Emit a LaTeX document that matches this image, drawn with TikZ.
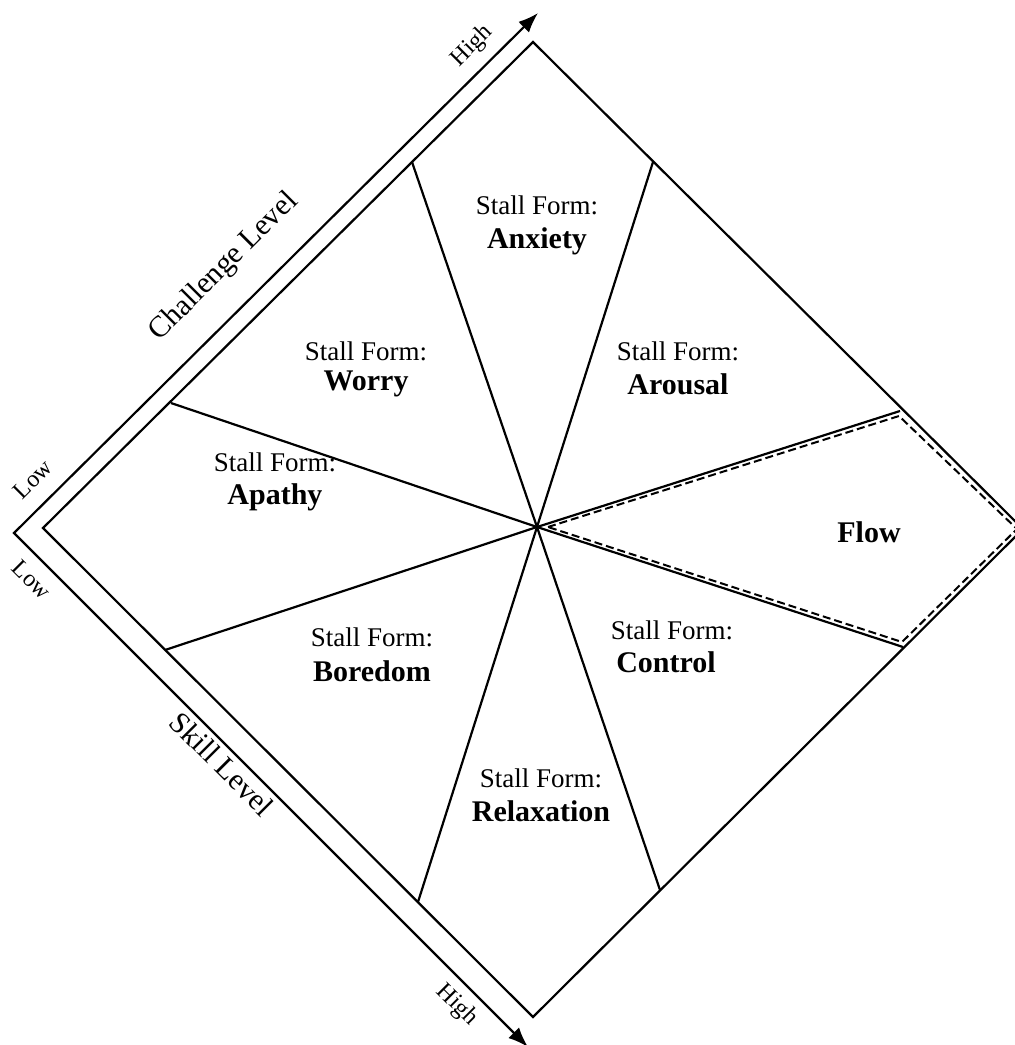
\documentclass[tikz,border=0pt]{standalone}
\usepackage{fontspec}
\setmainfont{Liberation Serif}
\usetikzlibrary{arrows.meta}
\tikzset{axtip/.tip={Latex[length=20pt,width=15pt]}}
\begin{document}
\begin{tikzpicture}[x=1pt,y=-1pt,line width=2.2pt,line join=miter,
  sf/.style={font=\fontsize{27}{32}\selectfont,inner sep=0pt},
  nm/.style={font=\fontsize{30}{34}\bfseries\selectfont,inner sep=0pt},
  axlab/.style={font=\fontsize{30}{34}\selectfont,inner sep=0pt},
  endlab/.style={font=\fontsize{24}{28}\selectfont,inner sep=0pt}]
\useasboundingbox (0,0) rectangle (1015,1045);
% diamond
\coordinate (C) at (537,527);
\coordinate (T) at (533,42);
\coordinate (R) at (1023,529);
\coordinate (B) at (533,1017);
\coordinate (L) at (43,528);
\draw (T) -- (R) -- (B) -- (L) -- cycle;
% dividers
\coordinate (P1) at (171,403);
\coordinate (P2) at (412,162);
\coordinate (P3) at (653,162);
\coordinate (P4) at (900,411);
\coordinate (P5) at (903,647);
\coordinate (P6) at (660,890);
\coordinate (P7) at (418,902);
\coordinate (P8) at (165,650);
\foreach \p in {P1,P2,P3,P4,P5,P6,P7,P8} \draw (C) -- (\p);
% flow dashed inset
\coordinate (F0) at (548,527);
\coordinate (F1) at (899,416);
\coordinate (F2) at (1017,529);
\coordinate (F3) at (902,642);
\draw[line width=2pt,dash pattern=on 8pt off 4pt] (F0) -- (F1) -- (F2) -- (F3) -- cycle;
% axes
\coordinate (O) at (14,533);
\coordinate (AT) at (538,13);
\coordinate (AB) at (528,1047);
\draw[axtip-axtip] (AT) -- (O) -- (AB);
% axis labels
\node[axlab,rotate=45] (chl) at (224,267) {Challenge Level};
\node[axlab,rotate=-45] (skl) at (222,764) {Skill Level};
\node[endlab,rotate=45] (hi1) at (472,46) {High};
\node[endlab,rotate=45] (lo1) at (33,479) {Low};
\node[endlab,rotate=-45] (lo2) at (32,580) {Low};
\node[endlab,rotate=-45] (hi2) at (457,1005) {High};
% sector labels
\node[sf] (s1) at (366,351) {Stall Form:};
\node[nm] (n1) at (366,384) {Worry};
\node[sf] (s2) at (537,205) {Stall Form:};
\node[nm] (n2) at (537,241) {Anxiety};
\node[sf] (s3) at (678,351) {Stall Form:};
\node[nm] (n3) at (678,384) {Arousal};
\node[sf] (s4) at (275,462) {Stall Form:};
\node[nm] (n4) at (275,497) {Apathy};
\node[nm] (n5) at (869,532) {Flow};
\node[sf] (s6) at (372,637) {Stall Form:};
\node[nm] (n6) at (372,671) {Boredom};
\node[sf] (s7) at (672,630) {Stall Form:};
\node[nm] (n7) at (666,662) {Control};
\node[sf] (s8) at (541,778) {Stall Form:};
\node[nm] (n8) at (541,811) {Relaxation};
\end{tikzpicture}
\end{document}
